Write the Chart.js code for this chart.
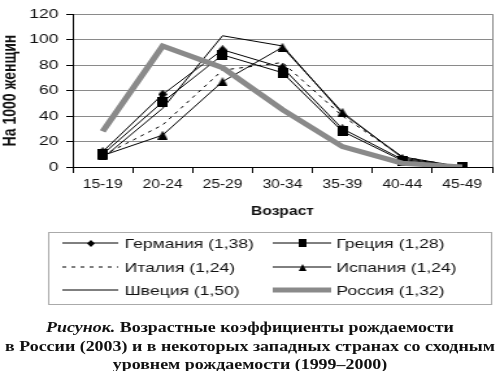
<!DOCTYPE html>
<html>
<head>
<meta charset="utf-8">
<script src="https://cdn.jsdelivr.net/npm/chart.js@4"></script>
<style>
  body { margin: 0; background: #fff; }
  #wrap { position: absolute; left: 0; top: 0; width: 385px; height: 371px; transform: scaleX(1.2987); transform-origin: 0 0; }
  #box { position: absolute; left: 0; top: 0; width: 385px; height: 312px; }
  #caption { position: absolute; left: -5px; top: 319px; width: 395px; text-align: center;
    font-family: "Liberation Serif", "Times New Roman", serif; font-weight: bold; font-size: 13.8px; line-height: 18.5px; color: #111; }
  #caption i { font-style: italic; }
</style>
</head>
<body>
<div id="wrap">
  <div id="box"><canvas id="myChart"></canvas></div>
  <div id="caption"><i>Рисунок.</i> Возрастные коэффициенты рождаемости<br>в России (2003) и в некоторых западных странах со сходным<br>уровнем рождаемости (1999–2000)</div>
</div>
<script>
const ages = ['15-19', '20-24', '25-29', '30-34', '35-39', '40-44', '45-49'];
const germany = [12, 57, 92, 78, 30, 6, 0];
const greece = [10, 51, 88, 74, 28, 5, 0];
const italy = [9, 33, 76, 82, 40, 8, 0];
const spain = [9, 25, 67, 94, 43, 7, 0];
const sweden = [7, 46, 103, 95, 42, 8, 0];
const russia = [28, 95, 78, 45, 16, 3, 0];
const yTicks = [0, 20, 40, 60, 80, 100, 120];

const SX = 1.2987; // whole picture is stretched sideways

// markers pre-squeezed so they look right after the stretch
function marker(kind, w, h) {
  const c = document.createElement('canvas');
  c.width = Math.round(w / SX);
  c.height = h;
  const g = c.getContext('2d');
  const cw = c.width;
  g.fillStyle = '#000';
  g.beginPath();
  if (kind === 'diamond') {
    g.moveTo(cw / 2, 0); g.lineTo(cw, h / 2); g.lineTo(cw / 2, h); g.lineTo(0, h / 2);
  } else if (kind === 'square') {
    g.rect(0, 0, cw, h);
  } else {
    g.moveTo(cw / 2, 0); g.lineTo(cw, h); g.lineTo(0, h);
  }
  g.closePath();
  g.fill();
  return c;
}
const diamond = marker('diamond', 9, 9);
const square = marker('square', 10, 10);
const triangle = marker('triangle', 10, 9);
const legendMarks = [marker('diamond', 8, 7), marker('square', 8, 8), null, marker('triangle', 8, 7), null, null];

const gridGrey = '#8a8a8a';

const legendPlugin = {
  id: 'boxLegend',
  afterDraw(chart) {
    const ctx = chart.ctx;
    const area = chart.chartArea;
    ctx.save();
    // plot area right edge
    ctx.strokeStyle = gridGrey;
    ctx.lineWidth = 1;
    ctx.beginPath();
    ctx.moveTo(area.right + 0.5, area.top);
    ctx.lineTo(area.right + 0.5, area.bottom);
    ctx.stroke();

    // legend frame
    ctx.strokeStyle = '#aaa';
    ctx.strokeRect(37.5, 232.5, 341, 72);

    const rows = [243, 267, 290];
    const cols = [{ x1: 48, x2: 91, tx: 96 }, { x1: 210, x2: 255, tx: 259 }];
    ctx.font = '13.5px "Liberation Sans", Arial, sans-serif';
    ctx.textBaseline = 'middle';
    ctx.fillStyle = '#111';
    chart.data.datasets.forEach((ds, i) => {
      const col = cols[i % 2];
      const y = rows[Math.floor(i / 2)];
      ctx.save();
      ctx.strokeStyle = ds.borderColor;
      ctx.lineWidth = ds.borderWidth;
      ctx.setLineDash(ds.borderDash || []);
      ctx.beginPath();
      ctx.moveTo(col.x1, y);
      ctx.lineTo(col.x2, y);
      ctx.stroke();
      ctx.restore();
      const img = legendMarks[i];
      if (img) {
        ctx.drawImage(img, Math.round((col.x1 + col.x2) / 2 - img.width / 2), Math.round(y - img.height / 2));
      }
      ctx.fillText(ds.label, col.tx, y + 1);
    });
    ctx.restore();
  }
};

function line(label, data, opts) {
  return Object.assign({
    label: label,
    data: data,
    borderColor: '#000',
    backgroundColor: '#000',
    borderWidth: 1,
    pointRadius: 0,
    pointHoverRadius: 0,
    tension: 0,
    fill: false
  }, opts);
}

const ctx = document.getElementById('myChart');
new Chart(ctx, {
  type: 'line',
  data: {
    labels: ages,
    datasets: [
      line('Германия (1,38)', germany, { pointStyle: diamond, pointRadius: 4 }),
      line('Греция (1,28)', greece, { pointStyle: square, pointRadius: 5 }),
      line('Италия (1,24)', italy, { borderDash: [3, 4] }),
      line('Испания (1,24)', spain, { pointStyle: triangle, pointRadius: 5 }),
      line('Швеция (1,50)', sweden, {}),
      line('Россия (1,32)', russia, { borderColor: gridGrey, backgroundColor: gridGrey, borderWidth: 5, order: -1 })
    ]
  },
  options: {
    responsive: true,
    maintainAspectRatio: false,
    animation: false,
    layout: { padding: { left: 0, right: 3, top: 8, bottom: 92 } },
    plugins: { legend: { display: false }, tooltip: { enabled: false } },
    scales: {
      x: {
        offset: true,
        afterFit: (s) => { s.height = 53; },
        grid: { drawOnChartArea: false, drawTicks: true, tickLength: 6, tickColor: '#000', offset: true },
        border: { color: '#000', width: 1 },
        ticks: { color: '#111', padding: 4, font: { family: '"Liberation Sans", Arial, sans-serif', size: 12 } },
        title: { display: true, text: 'Возраст', color: '#111', padding: { top: 0, bottom: 1 },
          font: { family: '"Liberation Sans", Arial, sans-serif', size: 12, weight: 'bold' } }
      },
      y: {
        min: 0,
        max: 120,
        afterFit: (s) => { s.width = 56; },
        afterBuildTicks: (s) => { s.ticks = yTicks.map((v) => ({ value: v })); },
        grid: { color: gridGrey, lineWidth: 1, drawTicks: true, tickLength: 5, tickColor: '#000' },
        border: { color: '#000', width: 1 },
        ticks: { color: '#111', padding: 6, font: { family: '"Liberation Sans", Arial, sans-serif', size: 13.5 } },
        title: { display: true, text: 'На 1000 женщин', color: '#111', padding: { top: 0 },
          font: { family: '"Liberation Sans", Arial, sans-serif', size: 14, weight: 'bold', lineHeight: 1.2 } }
      }
    }
  },
  plugins: [legendPlugin]
});
</script>
</body>
</html>
